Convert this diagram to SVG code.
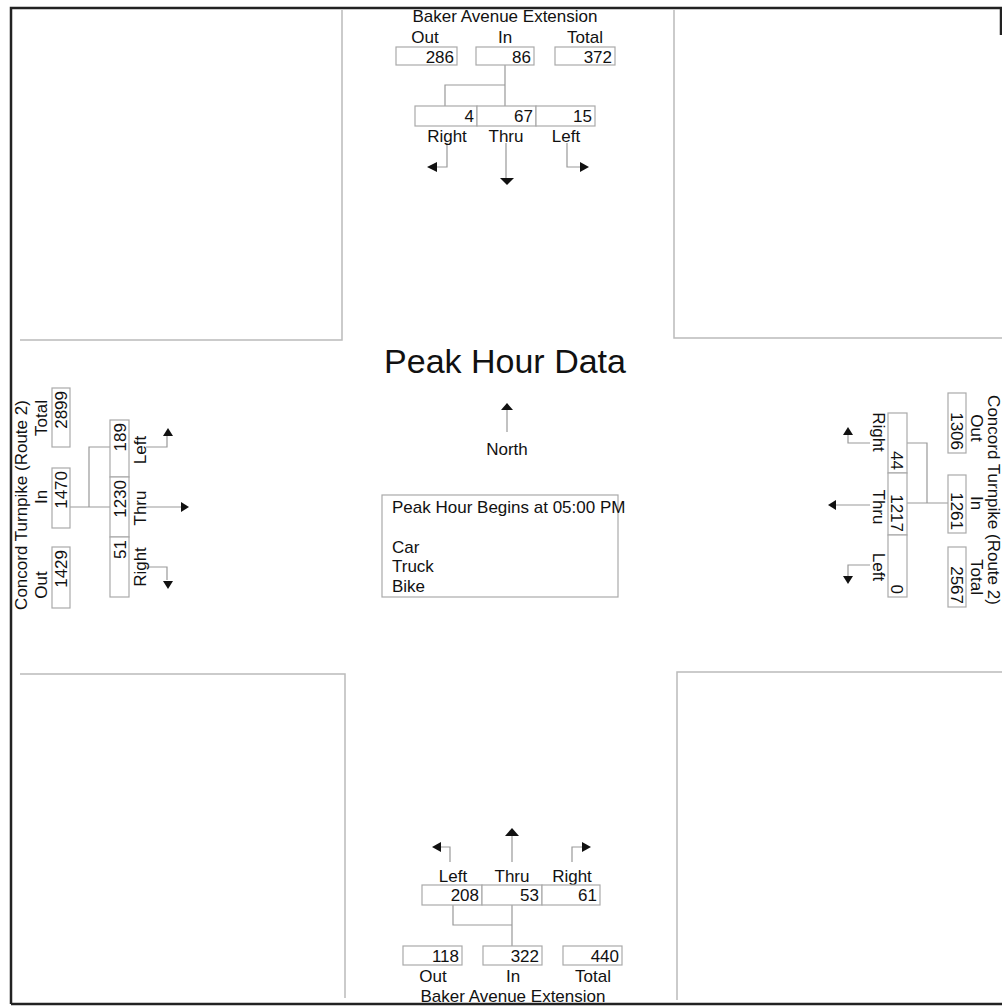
<svg xmlns="http://www.w3.org/2000/svg" width="1002" height="1006" viewBox="0 0 1002 1006">
<style>
text{font-family:"Liberation Sans",Arial,sans-serif;font-size:17px;fill:#111}
.n{text-anchor:end}
.c{text-anchor:middle}
.box{fill:#fff;stroke:#aaa;stroke-width:1.2}
.ln{fill:none;stroke:#999;stroke-width:1.2}
.area{fill:none;stroke:#bbb;stroke-width:1.5}
.frame{fill:none;stroke:#222;stroke-width:2.5}
.ah{fill:#111}
</style>
<rect width="1002" height="1006" fill="#fff"/>
<g id="areas">
<path class="area" d="M20 340H342V10"/>
<path class="area" d="M674 10V338H1002"/>
<path class="area" d="M20 674H345V998"/>
<path class="area" d="M677 1000V672H1002"/>
</g>
<g id="frame">
<path class="frame" d="M11 1004V8H1001V35"/>
<path class="frame" d="M11 1004H1002"/>
</g>
<g id="connectors">
<path class="ln" d="M505 65V106M445 106V85H505"/>
<path class="ln" d="M447 143V167H437M506 143V178M567 143V167H580"/>
<path class="ln" d="M512 905V946M453 905V925H512"/>
<path class="ln" d="M450 862V847H440M512 862V836M572 862V847H582"/>
<path class="ln" d="M70 507H110M89 507V447H110"/>
<path class="ln" d="M146 447H167V436M146 507H181M146 567H167V580"/>
<path class="ln" d="M948 503H907M927 503V443H907"/>
<path class="ln" d="M870 443H848V434M870 505H836M870 565H848V576"/>
<path class="ln" d="M507 410V432"/>
</g>
<g id="arrowheads">
<path class="ah" d="M427 167L437 162V172Z"/>
<path class="ah" d="M507 185L500 178H514Z"/>
<path class="ah" d="M589 167L580 162V172Z"/>
<path class="ah" d="M432 847L441 842V852Z"/>
<path class="ah" d="M512 828L505 836H519Z"/>
<path class="ah" d="M591 847L582 842V852Z"/>
<path class="ah" d="M168 428L163 436H173Z"/>
<path class="ah" d="M189 507L181 502V512Z"/>
<path class="ah" d="M168 589L163 581H173Z"/>
<path class="ah" d="M848 427L843 435H853Z"/>
<path class="ah" d="M828 505L836 500V510Z"/>
<path class="ah" d="M848 584L843 576H853Z"/>
<path class="ah" d="M507 403L501 410H513Z"/>
</g>
<g id="north-approach">
<text class="c" x="505" y="22">Baker Avenue Extension</text>
<text class="c" x="425" y="43">Out</text>
<text class="c" x="505" y="43">In</text>
<text class="c" x="585" y="43">Total</text>
<rect class="box" x="396" y="47" width="61" height="18"/>
<rect class="box" x="476" y="47" width="58" height="18"/>
<rect class="box" x="555" y="47" width="60" height="18"/>
<text class="n" x="454" y="63">286</text>
<text class="n" x="531" y="63">86</text>
<text class="n" x="612" y="63">372</text>
<rect class="box" x="415" y="106" width="62" height="20"/>
<rect class="box" x="477" y="106" width="59" height="20"/>
<rect class="box" x="536" y="106" width="59" height="20"/>
<text class="n" x="474" y="122">4</text>
<text class="n" x="533" y="122">67</text>
<text class="n" x="592" y="122">15</text>
<text class="c" x="447" y="142">Right</text>
<text class="c" x="506" y="142">Thru</text>
<text class="c" x="566" y="142">Left</text>
</g>
<g id="south-approach">
<text class="c" x="453" y="882">Left</text>
<text class="c" x="512" y="882">Thru</text>
<text class="c" x="572" y="882">Right</text>
<rect class="box" x="422" y="885" width="60" height="20"/>
<rect class="box" x="482" y="885" width="60" height="20"/>
<rect class="box" x="542" y="885" width="58" height="20"/>
<text class="n" x="479" y="901">208</text>
<text class="n" x="539" y="901">53</text>
<text class="n" x="597" y="901">61</text>
<rect class="box" x="403" y="946" width="59" height="19"/>
<rect class="box" x="483" y="946" width="59" height="19"/>
<rect class="box" x="563" y="946" width="59" height="19"/>
<text class="n" x="459" y="962">118</text>
<text class="n" x="539" y="962">322</text>
<text class="n" x="619" y="962">440</text>
<text class="c" x="433" y="982">Out</text>
<text class="c" x="513" y="982">In</text>
<text class="c" x="593" y="982">Total</text>
<text class="c" x="513" y="1002">Baker Avenue Extension</text>
</g>
<g id="west-approach">
<text class="c" transform="translate(27,505) rotate(-90)">Concord Turnpike (Route 2)</text>
<text class="c" transform="translate(47,418) rotate(-90)">Total</text>
<text class="c" transform="translate(47,497) rotate(-90)">In</text>
<text class="c" transform="translate(47,585) rotate(-90)">Out</text>
<rect class="box" x="52" y="388" width="18" height="59"/>
<rect class="box" x="52" y="468" width="18" height="60"/>
<rect class="box" x="52" y="547" width="18" height="61"/>
<text class="n" transform="translate(67,391) rotate(-90)">2899</text>
<text class="n" transform="translate(67,471) rotate(-90)">1470</text>
<text class="n" transform="translate(67,550) rotate(-90)">1429</text>
<rect class="box" x="110" y="420" width="19" height="57"/>
<rect class="box" x="110" y="477" width="19" height="60"/>
<rect class="box" x="110" y="537" width="19" height="60"/>
<text class="n" transform="translate(126,423) rotate(-90)">189</text>
<text class="n" transform="translate(126,480) rotate(-90)">1230</text>
<text class="n" transform="translate(126,540) rotate(-90)">51</text>
<text class="c" transform="translate(146,450) rotate(-90)">Left</text>
<text class="c" transform="translate(146,508) rotate(-90)">Thru</text>
<text class="c" transform="translate(146,567) rotate(-90)">Right</text>
</g>
<g id="east-approach">
<text class="c" transform="translate(988,500) rotate(90)">Concord Turnpike (Route 2)</text>
<text class="c" transform="translate(971,428) rotate(90)">Out</text>
<text class="c" transform="translate(971,503) rotate(90)">In</text>
<text class="c" transform="translate(971,577) rotate(90)">Total</text>
<rect class="box" x="948" y="393" width="18" height="60"/>
<rect class="box" x="948" y="475" width="18" height="58"/>
<rect class="box" x="948" y="547" width="18" height="60"/>
<text class="n" transform="translate(951,450) rotate(90)">1306</text>
<text class="n" transform="translate(951,530) rotate(90)">1261</text>
<text class="n" transform="translate(951,604) rotate(90)">2567</text>
<rect class="box" x="888" y="413" width="19" height="60"/>
<rect class="box" x="888" y="473" width="19" height="62"/>
<rect class="box" x="888" y="535" width="19" height="62"/>
<text class="n" transform="translate(891,470) rotate(90)">44</text>
<text class="n" transform="translate(891,532) rotate(90)">1217</text>
<text class="n" transform="translate(891,594) rotate(90)">0</text>
<text class="c" transform="translate(873,432) rotate(90)">Right</text>
<text class="c" transform="translate(873,507) rotate(90)">Thru</text>
<text class="c" transform="translate(873,567) rotate(90)">Left</text>
</g>
<g id="title">
<text class="c" x="505" y="373" style="font-size:34px">Peak Hour Data</text>
<text class="c" x="507" y="455">North</text>
</g>
<g id="legend">
<rect class="box" x="382" y="495" width="236" height="102"/>
<text x="392" y="513">Peak Hour Begins at 05:00 PM</text>
<text x="392" y="553">Car</text>
<text x="392" y="572">Truck</text>
<text x="392" y="592">Bike</text>
</g>
</svg>
